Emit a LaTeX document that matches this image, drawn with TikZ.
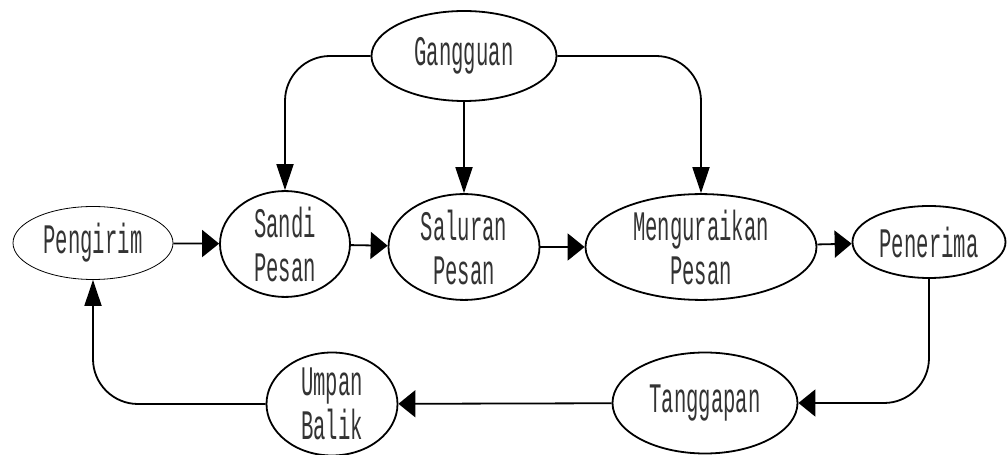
\documentclass[tikz,border=0pt]{standalone}
\usepackage{fontspec}
\usetikzlibrary{shapes.geometric,arrows.meta}
\newfontfamily\thinmono[FakeStretch=0.49]{Liberation Mono}

\begin{document}
\begin{tikzpicture}[line join=bevel,
        stepnode/.style={shape=ellipse, draw=black, line width=1.8pt, inner sep=0pt, align=center,
          text=black!80, font=\thinmono\fontsize{42}{44}\selectfont},
        thinnode/.style={stepnode, line width=0.8pt},
        harrow/.style={line width=1.8pt, -{Triangle[length=17pt,width=27pt]}},
        varrow/.style={line width=1.8pt, -{Triangle[length=26pt,width=17pt]}}]
        \useasboundingbox (0pt, 0pt) rectangle (1007pt, 455pt);
        % Nodes
        \node[stepnode, minimum width=185pt, minimum height=90pt] (gangguan) at (464pt, 399pt) {Gangguan};
        \node[thinnode, minimum width=160pt, minimum height=73pt] (pengirim) at (93pt, 212pt) {Pengirim};
        \node[stepnode, minimum width=130pt, minimum height=100pt] (sandi) at (285pt, 211pt) {Sandi\\Pesan};
        \node[stepnode, minimum width=151pt, minimum height=103pt] (saluran) at (464pt, 208pt) {Saluran\\Pesan};
        \node[stepnode, minimum width=231pt, minimum height=103pt] (menguraikan) at (701pt, 208pt) {Menguraikan\\Pesan};
        \node[stepnode, minimum width=153pt, minimum height=72pt] (penerima) at (929pt, 213pt) {Penerima};
        \node[stepnode, minimum width=185pt, minimum height=101pt] (tanggapan) at (705pt, 52pt) {Tanggapan};
        \node[stepnode, minimum width=131pt, minimum height=103pt] (umpan) at (332pt, 51pt) {Umpan\\Balik};
        % Noise
        \draw[varrow, rounded corners=45pt] (gangguan.west) -| (sandi.north);
        \draw[varrow] (gangguan.south) -- (saluran.north);
        \draw[varrow, rounded corners=45pt] (gangguan.east) -| (menguraikan.north);
        % Message flow
        \draw[harrow] (pengirim) -- (sandi);
        \draw[harrow] (sandi) -- (saluran);
        \draw[harrow] (saluran) -- (menguraikan);
        \draw[harrow] (menguraikan) -- (penerima);
        % Feedback
        \draw[harrow, rounded corners=45pt] (penerima.south) |- (tanggapan.east);
        \draw[harrow] (tanggapan) -- (umpan);
        \draw[varrow, rounded corners=45pt] (umpan.west) -| (pengirim.south);
\end{tikzpicture}
\end{document}
